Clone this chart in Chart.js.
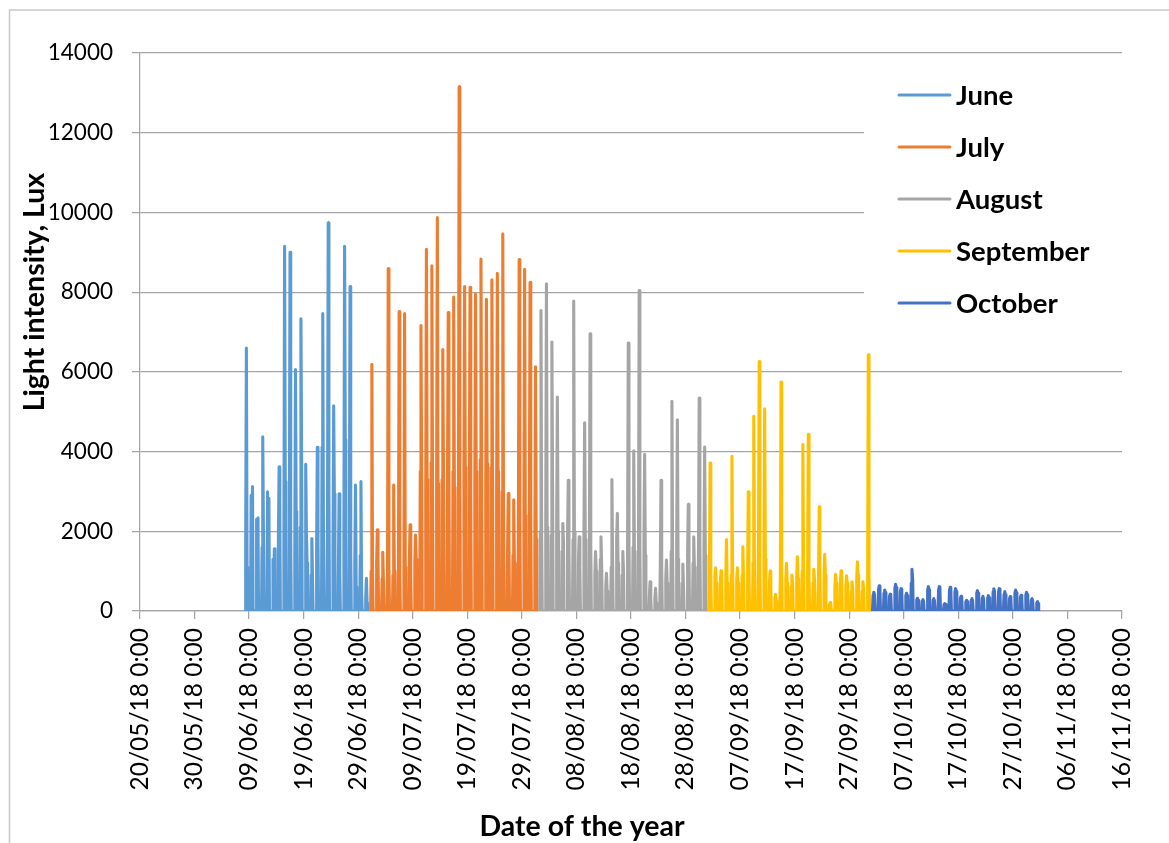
<!DOCTYPE html>
<html><head><meta charset="utf-8">
<script src="https://cdn.jsdelivr.net/npm/chart.js@4.4.1/dist/chart.umd.min.js"></script>
<style>
html,body{margin:0;padding:0;background:#fff;}
#wrap{position:relative;width:1169px;height:843px;overflow:hidden;}
canvas{display:block;}
</style></head><body>
<div id="wrap"><canvas id="c" width="1169" height="843"></canvas></div>
<script>
// X tick labels (every 10 days from 20/05/18)
const tickLabels = ['20/05/18 0:00','30/05/18 0:00','09/06/18 0:00','19/06/18 0:00','29/06/18 0:00',
  '09/07/18 0:00','19/07/18 0:00','29/07/18 0:00','08/08/18 0:00','18/08/18 0:00','28/08/18 0:00',
  '07/09/18 0:00','17/09/18 0:00','27/09/18 0:00','07/10/18 0:00','17/10/18 0:00','27/10/18 0:00',
  '06/11/18 0:00','16/11/18 0:00'];
const monthNames = ['June','July','August','September','October'];
const monthColors = ['#5B9BD5','#ED7D31','#A5A5A5','#FFC000','#4472C4'];
// first day of each series, in days after 20/05/18
const monthStartDay = [19, 42, 73, 104, 134];
// hours of the readings in each day (night readings are 0)
const readingHours = [6.5, 9, 12, 15, 17.5];

const juneAM   = [1800,2900,2300,1600,2990,1300,1900,1500,2200,1600,2100,3680,900,1500,4110,2500,1500,1200,2000,1900,1200,1400,300];
const juneNoon = [6600,1500,1300,4370,1500,700,3620,9150,9000,6060,7330,2000,1820,4110,7460,9740,5150,2940,9150,8140,3160,3250,820];
const junePM   = [1100,3120,2340,2000,2830,1560,2420,3250,1800,2500,3720,1200,800,1800,2000,2940,2940,900,4290,1500,600,500,200];

const julyAM   = [1000,1200,800,1000,900,1100,1000,1300,1200,3500,3000,3720,3400,3300,3600,3500,3000,3700,3400,3200,3800,3300,3600,3100,3000,1500,1400,2900,2800,2600,1500];
const julyNoon = [6190,2035,1470,8590,3160,7510,7460,2165,1905,7160,9075,8660,9870,6560,7490,7880,13150,8140,8120,7950,8830,7820,8310,8470,9465,2945,2790,8815,8570,8250,6130];
const julyPM   = [900,1400,700,1200,1000,900,1100,900,1300,3600,3300,3000,3200,3600,3400,3100,3500,3600,3000,3500,3300,3700,3200,3500,2800,1800,1200,2700,2400,2500,1800];

const augAM    = [2000,2200,1900,2100,1500,1900,1800,1300,1900,1800,900,1300,600,1100,1820,900,1700,1600,1500,1700,400,300,1200,800,1500,1700,700,1400,1200,1600,1500];
const augNoon  = [7540,8210,6750,5370,2195,3280,7775,1860,4720,6955,1490,1860,945,3300,2450,1490,6720,4020,8040,3930,735,570,3280,1280,5260,4800,1180,2680,1860,5340,4115];
const augPM    = [1800,2100,3115,2000,1700,1500,2000,1100,1800,1600,1000,1100,500,1300,1200,1000,1800,1500,1600,1400,300,200,1100,700,1400,1300,600,1300,1100,1700,1400];

const sepAM    = [900,860,700,800,900,800,900,1000,1200,1800,1400,700,300,900,800,600,900,1000,1100,700,900,800,150,600,700,600,500,800,500,800];
const sepNoon  = [3715,1085,1010,1795,3880,1085,1610,2990,4885,6260,5075,1000,420,5745,1195,900,1360,4175,4435,1045,2615,1420,210,920,1010,885,735,1235,735,6430];
const sepPM    = [800,700,800,700,1000,700,800,900,1100,1000,1300,600,250,1000,700,700,800,1200,900,800,1000,900,180,700,800,700,600,900,600,900];

const octAM    = [400,540,450,360,570,480,380,700,280,250,520,270,520,160,510,480,320,230,270,440,320,330,480,480,420,310,450,340,400,270,200];
const octNoon  = [470,630,525,420,670,560,445,1045,320,285,610,310,610,190,595,560,370,270,310,510,370,385,560,560,485,360,525,395,470,310,235];
const octPM    = [420,560,460,370,590,490,390,800,270,240,530,260,530,170,520,490,310,240,260,450,310,340,490,470,410,300,460,330,410,260,190];

const monthAM   = [juneAM, julyAM, augAM, sepAM, octAM];
const monthNoon = [juneNoon, julyNoon, augNoon, sepNoon, octNoon];
const monthPM   = [junePM, julyPM, augPM, sepPM, octPM];

function buildSeries(m){
  const pts = [];
  const am = monthAM[m], noon = monthNoon[m], pm = monthPM[m];
  for (let i = 0; i < noon.length; i++){
    const day = monthStartDay[m] + i;
    const vals = [0, am[i], noon[i], pm[i], 0];
    for (let k = 0; k < readingHours.length; k++){
      pts.push({x: day + readingHours[k]/24, y: vals[k]});
    }
  }
  return pts;
}

const FONT = 'Lato';
const datasets = monthNames.map((name, m) => ({
  label: name,
  data: buildSeries(m),
  borderColor: monthColors[m],
  backgroundColor: monthColors[m],
  borderWidth: 3.1,
  pointRadius: 0,
  pointHoverRadius: 0,
  fill: false,
  tension: 0,
  borderJoinStyle: 'round',
  borderCapStyle: 'round',
  order: 5 - m
}));

const overlay = {
  id: 'overlay',
  beforeDraw(chart){
    const c = chart.ctx;
    c.save();
    c.fillStyle = '#fff';
    c.fillRect(0,0,chart.width,chart.height);
    c.strokeStyle = '#c8c8c8';
    c.lineWidth = 1.5;
    c.strokeRect(9.5, 10, 1300, 1000);
    c.restore();
  },
  afterDraw(chart){
    const c = chart.ctx;
    c.save();
    // legend box
    c.fillStyle = '#fff';
    c.fillRect(864, 62, 260, 272);
    const ys = [95, 147, 199, 251, 303];
    chart.data.datasets.forEach((ds, i) => {
      c.strokeStyle = ds.borderColor;
      c.lineWidth = 3;
      c.lineCap = 'round';
      c.beginPath(); c.moveTo(899, ys[i]); c.lineTo(950, ys[i]); c.stroke();
      c.fillStyle = '#000';
      c.font = 'bold 27.5px ' + FONT;
      c.textAlign = 'left';
      c.textBaseline = 'middle';
      c.fillText(ds.label, 956, ys[i] + 1);
    });
    // axis titles
    c.fillStyle = '#000';
    c.font = 'bold 28.5px ' + FONT;
    c.textAlign = 'center';
    c.textBaseline = 'middle';
    c.fillText('Date of the year', 582, 827);
    c.translate(35, 292);
    c.rotate(-Math.PI/2);
    c.fillText('Light intensity, Lux', 0, 0);
    c.restore();
  }
};

new Chart(document.getElementById('c'), {
  type: 'line',
  data: { datasets },
  plugins: [overlay],
  options: {
    responsive: false,
    animation: false,
    devicePixelRatio: 1,
    parsing: false,
    normalized: true,
    layout: { padding: { top: 53, right: 47, left: 0, bottom: 0 } },
    plugins: { legend: { display: false }, tooltip: { enabled: false } },
    events: [],
    scales: {
      x: {
        type: 'linear', min: 0, max: 180,
        afterFit: s => { s.height = 843 - 611; },
        ticks: {
          stepSize: 10, autoSkip: false, maxRotation: 90, minRotation: 90,
          padding: 9, color: '#000', font: { family: FONT, size: 24.5 },
          callback: (v, i) => tickLabels[i]
        },
        grid: { drawOnChartArea: false, drawTicks: true, tickLength: 8, color: '#a5a5a5', lineWidth: 1.25 },
        border: { display: true, color: '#a5a5a5', width: 1.25 }
      },
      y: {
        min: 0, max: 14000,
        afterFit: s => { s.width = 140; },
        ticks: {
          stepSize: 2000, padding: 19, color: '#000', font: { family: FONT, size: 22.5 },
          callback: v => String(v)
        },
        grid: { drawTicks: true, tickLength: 8, color: '#a5a5a5', lineWidth: 1.25 },
        border: { display: true, color: '#a5a5a5', width: 1.25 }
      }
    }
  }
});
</script>
</body></html>
